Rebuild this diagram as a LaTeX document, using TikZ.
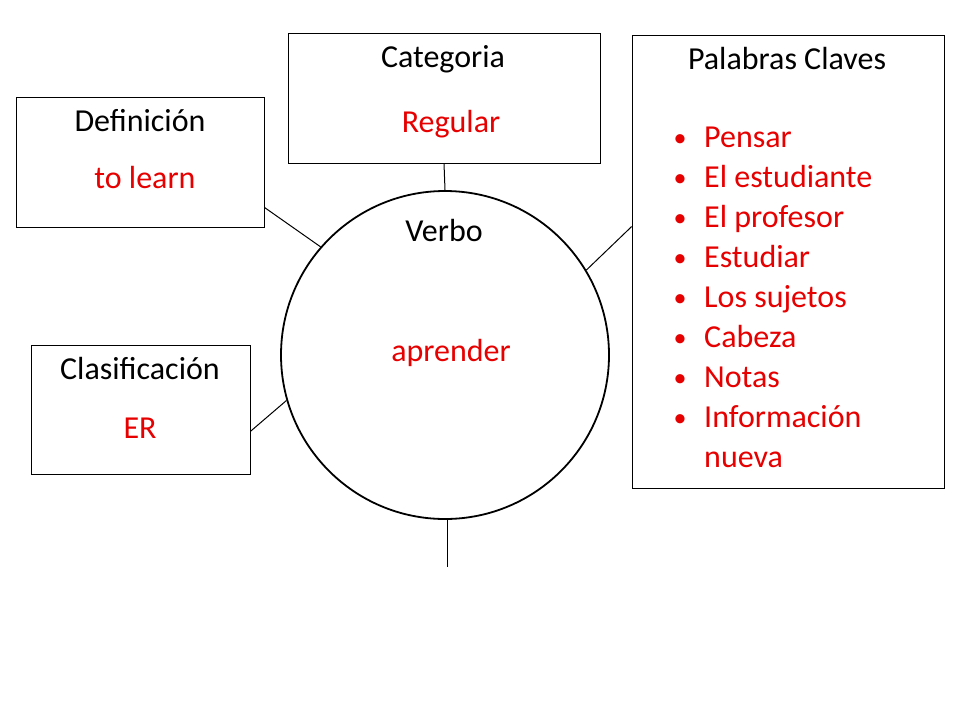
\documentclass[tikz,border=0pt]{standalone}
\usepackage{fontspec}
\setmainfont{Carlito}
\usetikzlibrary{calc}
\definecolor{txtred}{RGB}{230,0,0}
\begin{document}
\begin{tikzpicture}[x=1pt,y=-1pt,
  box/.style={draw,line width=0.8pt,inner sep=0pt},
  lbl/.style={font=\fontsize{32}{36}\selectfont,anchor=base},
  red/.style={lbl,text=txtred},
  bul/.style={font=\fontsize{26}{30}\selectfont,text=txtred,anchor=base},
  conn/.style={line width=1pt}]
\useasboundingbox (0,0) rectangle (960,720);
\node[draw,circle,line width=1.8pt,minimum size=328pt,inner sep=0pt] (c) at (445,355) {};
\node[box,minimum width=248pt,minimum height=130pt] (def) at (140,162) {};
\node[box,minimum width=312pt,minimum height=130pt] (cat) at (444,98) {};
\node[box,minimum width=312pt,minimum height=453pt] (pal) at (788,261.5) {};
\node[box,minimum width=219pt,minimum height=129pt] (cla) at (140.5,409.5) {};
\coordinate (bot) at (447,567);
\draw[conn] ($(def.south east)+(0,-20)$) -- (c.139);
\draw[conn] (cat.south) -- (c.90);
\draw[conn] ($(pal.north west)+(0,192)$) -- (c.31);
\draw[conn] ($(cla.south east)+(0,-43)$) -- (c.196);
\draw[conn] (c.270 -| bot) -- (bot);
\node[lbl] (tv) at (444,241) {Verbo};
\node[red] (tva) at (451,361) {aprender};
\node[lbl] (td) at (140,131) {Definición};
\node[red] (tdv) at (145,188) {to learn};
\node[lbl] (tc) at (443,67) {Categoria};
\node[red] (tcv) at (451,132) {Regular};
\node[lbl] (tcl) at (140,379) {Clasificación};
\node[red] (tclv) at (140,438) {ER};
\node[lbl] (tp) at (787,69) {Palabras Claves};
\foreach \t [count=\i] in {Pensar,El estudiante,El profesor,Estudiar,Los sujetos,Cabeza,Notas,Información} {
  \node[red,anchor=base west,inner sep=0pt] (b\i) at (704,{147+40*(\i-1)}) {\t};
  \node[bul] (d\i) at (680,{146+40*(\i-1)}) {•};
}
\node[red,anchor=base west,inner sep=0pt] (b9) at (704,467) {nueva};
\end{tikzpicture}
\end{document}
